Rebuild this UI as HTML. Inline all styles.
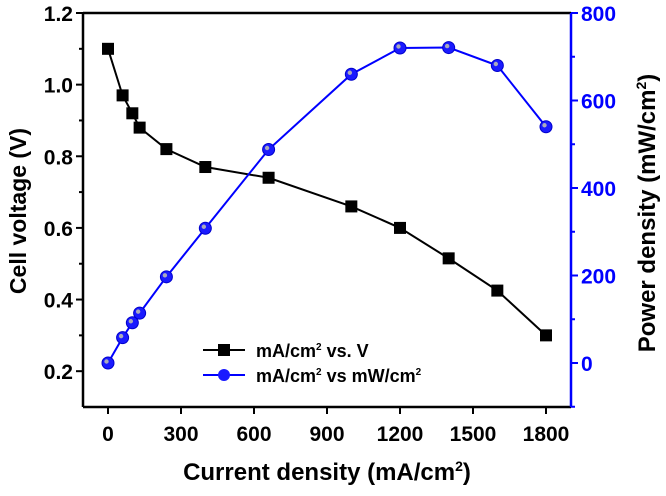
<!DOCTYPE html>
<html><head><meta charset="utf-8"><style>
html,body{margin:0;padding:0;background:#fff;}
svg{display:block;font-family:"Liberation Sans",Arial,sans-serif;font-weight:bold;}
</style></head><body>
<svg id="chart" width="666" height="496" viewBox="0 0 666 496"></svg>
<script>
const currents=[0,60,100,130,240,400,660,1000,1200,1400,1600,1800];
const voltages=[1.1,0.97,0.92,0.88,0.82,0.77,0.74,0.66,0.60,0.515,0.425,0.30];
const powers=[0,58,92,114,197,308,488,660,720,721,680,540];
const xTicks=[0,300,600,900,1200,1500,1800];
const yLeftTicks=[0.2,0.4,0.6,0.8,1.0,1.2];
const yRightTicks=[0,200,400,600,800];

const L=83,R=571,T=13,B=407;
const xs=v=>108+(v)*(73/300);
const yl=v=>B-(v-0.1)*((B-T)/1.1);
const yr=v=>363-v*0.4375;
const svg=document.getElementById('chart');
const NS='http://www.w3.org/2000/svg';
function mk(t,a,p){const e=document.createElementNS(NS,t);for(const k in a)e.setAttribute(k,a[k]);(p||svg).appendChild(e);return e;}

let e=mk('line',{x1:L,y1:T,x2:R,y2:T,stroke:'#000','stroke-width':2.5});

e=mk('line',{x1:L,y1:T,x2:L,y2:B,stroke:'#000','stroke-width':2.5});

e=mk('line',{x1:L,y1:B,x2:R,y2:B,stroke:'#000','stroke-width':2.5});

e=mk('line',{x1:R,y1:T,x2:R,y2:B,stroke:'#0000ff','stroke-width':2.5});


xTicks.forEach(v=>{
  const t=mk('line',{x1:xs(v),y1:B,x2:xs(v),y2:B+7,stroke:'#000','stroke-width':2});
  
  const l=mk('text',{x:xs(v),y:B+34,'text-anchor':'middle','font-size':21,fill:'#000'});l.textContent=v;
  
});
yLeftTicks.forEach(v=>{
  const t=mk('line',{x1:L-7,y1:yl(v),x2:L,y2:yl(v),stroke:'#000','stroke-width':2});
  
  const l=mk('text',{x:L-10,y:yl(v)+8,'text-anchor':'end','font-size':21,fill:'#000'});l.textContent=v.toFixed(1);
  
});
[0.3,0.5,0.7,0.9,1.1].forEach(v=>{mk('line',{x1:L-4,y1:yl(v),x2:L,y2:yl(v),stroke:'#000','stroke-width':2});});
yRightTicks.forEach(v=>{
  const t=mk('line',{x1:R,y1:yr(v),x2:R+7,y2:yr(v),stroke:'#0000ff','stroke-width':2});
  
  const l=mk('text',{x:R+10,y:yr(v)+8,'text-anchor':'start','font-size':21,fill:'#0000ff'});l.textContent=v;
  
});
[-100,100,300,500,700].forEach(v=>{mk('line',{x1:R,y1:yr(v),x2:R+4,y2:yr(v),stroke:'#0000ff','stroke-width':2});});

e=mk('text',{x:327,y:480,'text-anchor':'middle','font-size':24,fill:'#000'});
e.innerHTML='Current density (mA/cm<tspan dy="-9" font-size="14">2</tspan><tspan dy="9">)</tspan>';

e=mk('text',{x:0,y:0,'text-anchor':'middle','font-size':23,fill:'#000',transform:'translate(26,211) rotate(-90)'});
e.textContent='Cell voltage (V)';

e=mk('text',{x:0,y:0,'text-anchor':'middle','font-size':24,fill:'#000',transform:'translate(655,213) rotate(-90)'});
e.innerHTML='Power density (mW/cm<tspan dy="-9" font-size="14">2</tspan><tspan dy="9">)</tspan>';


e=mk('polyline',{points:currents.map((c,i)=>xs(c)+','+yl(voltages[i])).join(' '),fill:'none',stroke:'#000','stroke-width':2});

e=mk('polyline',{points:currents.map((c,i)=>xs(c)+','+yr(powers[i])).join(' '),fill:'none',stroke:'#0000ff','stroke-width':2});

currents.forEach((c,i)=>{
  const m=mk('rect',{x:xs(c)-6,y:yl(voltages[i])-6,width:12,height:12,fill:'#000'});
  
  const p=mk('circle',{cx:xs(c),cy:yr(powers[i]),r:6,fill:'#1a1aff',stroke:'#0000cc','stroke-width':1});
  
  mk('circle',{cx:xs(c)-1.5,cy:yr(powers[i])-1.5,r:2.2,fill:'#aab'});
});

const lg=mk('g',{});

mk('line',{x1:203,y1:350,x2:245,y2:350,stroke:'#000','stroke-width':2},lg);
mk('rect',{x:218,y:344,width:12,height:12,fill:'#000'},lg);
e=mk('text',{x:256,y:357,'font-size':18,fill:'#000'},lg);
e.innerHTML='mA/cm<tspan dy="-7" font-size="10">2</tspan><tspan dy="7"> vs. V</tspan>';

mk('line',{x1:203,y1:375,x2:245,y2:375,stroke:'#0000ff','stroke-width':2},lg);
mk('circle',{cx:224,cy:375,r:6,fill:'#1a1aff'},lg);
e=mk('text',{x:256,y:382,'font-size':18,fill:'#000'},lg);
e.innerHTML='mA/cm<tspan dy="-7" font-size="10">2</tspan><tspan dy="7"> vs mW/cm</tspan><tspan dy="-7" font-size="10">2</tspan>';

</script>
</body></html>
